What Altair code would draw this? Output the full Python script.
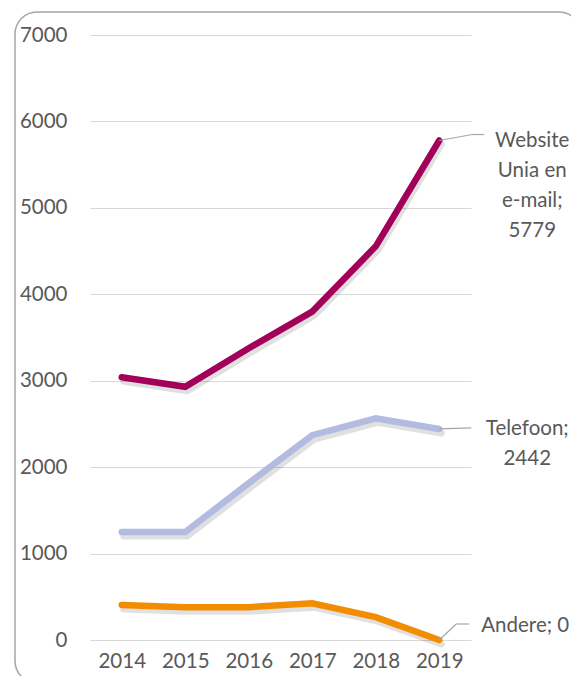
import altair as alt
import pandas as pd

years = ["2014", "2015", "2016", "2017", "2018", "2019"]
website = [3040, 2930, 3375, 3800, 4555, 5779]
telefoon = [1250, 1250, 1815, 2370, 2565, 2442]
andere = [405, 380, 380, 425, 265, 0]
series_names = ["Website Unia en e-mail", "Telefoon", "Andere"]
series_colors = ["#A3005A", "#B3BBE0", "#F28C00"]
label_texts = [["Website", "Unia en", "e-mail;", "5779"], ["Telefoon;", "2442"], ["Andere; 0"]]

rows = []
for name, vals in zip(series_names, [website, telefoon, andere]):
    for y, v in zip(years, vals):
        rows.append({"year": y, "value": v, "series": name})
df = pd.DataFrame(rows)

FONT = "Lato"
TXT = "#595959"
FS = 20.5

x = alt.X("year:O", scale=alt.Scale(domain=years, type="point", padding=0.5),
          axis=alt.Axis(title=None, labelAngle=0, domain=False, ticks=False, labelPadding=11,
                        labelFont=FONT, labelFontSize=FS, labelColor=TXT, grid=False))
y = alt.Y("value:Q", scale=alt.Scale(domain=[0, 7000], nice=False),
          axis=alt.Axis(title=None, values=list(range(0, 7001, 1000)), format="d", domain=False, ticks=False,
                        labelPadding=23, labelFont=FONT, labelFontSize=FS, labelColor=TXT,
                        gridColor="#D9D9D9", gridWidth=1.2, labelFlush=False))
color = alt.Color("series:N", scale=alt.Scale(domain=series_names, range=series_colors), legend=None)

border = alt.Chart(pd.DataFrame({"a": [0]})).mark_rect(
    fill="transparent", stroke="#A6A6A6", strokeWidth=1.5, cornerRadius=22
).encode(x=alt.value(-75), x2=alt.value(491), y=alt.value(-23), y2=alt.value(648))

shadow = alt.Chart(df).mark_line(strokeWidth=7, color="#000000", opacity=0.12, xOffset=2, yOffset=4,
                                 strokeCap="round").encode(x=x, y=y, detail="series:N")
lines = alt.Chart(df).mark_line(strokeWidth=6.5, strokeCap="round").encode(x=x, y=y, color=color)

last = df[df["year"] == "2019"].copy()
lab = last.copy()
lab["label"] = label_texts

layers = [border, shadow, lines]
leader_specs = [
    ("Website Unia en e-mail", [(0, 0, 33, -6), (33, -6, 45, -6)], 93, 0),
    ("Telefoon", [(0, 0, 32, -1)], 88, 0),
    ("Andere", [(0, 0, 17, -16), (17, -16, 30, -16)], 86, -14),
]
for name, segs, tdx, tdy in leader_specs:
    d = last[last["series"] == name]
    for (ax, ay, bx, by) in segs:
        layers.append(alt.Chart(d).mark_rule(color="#A6A6A6", strokeWidth=1.2,
                                             xOffset=ax, yOffset=ay, x2Offset=bx, y2Offset=by).encode(
            x=x, y=y, x2="year:O", y2="value:Q"))
    dl = lab[lab["series"] == name]
    layers.append(alt.Chart(dl).mark_text(font=FONT, fontSize=FS, color=TXT, align="center",
                                          baseline="middle", lineHeight=30, dx=tdx, dy=tdy).encode(
        x=x, y=y, text="label"))

chart = alt.layer(*layers).properties(
    width=381, height=605,
    background="white",
    autosize=alt.AutoSizeParams(type="none"),
    padding={"left": 82, "top": 27, "right": 100, "bottom": 36},
).configure_view(stroke=None)

chart.save("out.html", embed_options={"renderer": "svg", "actions": False})
